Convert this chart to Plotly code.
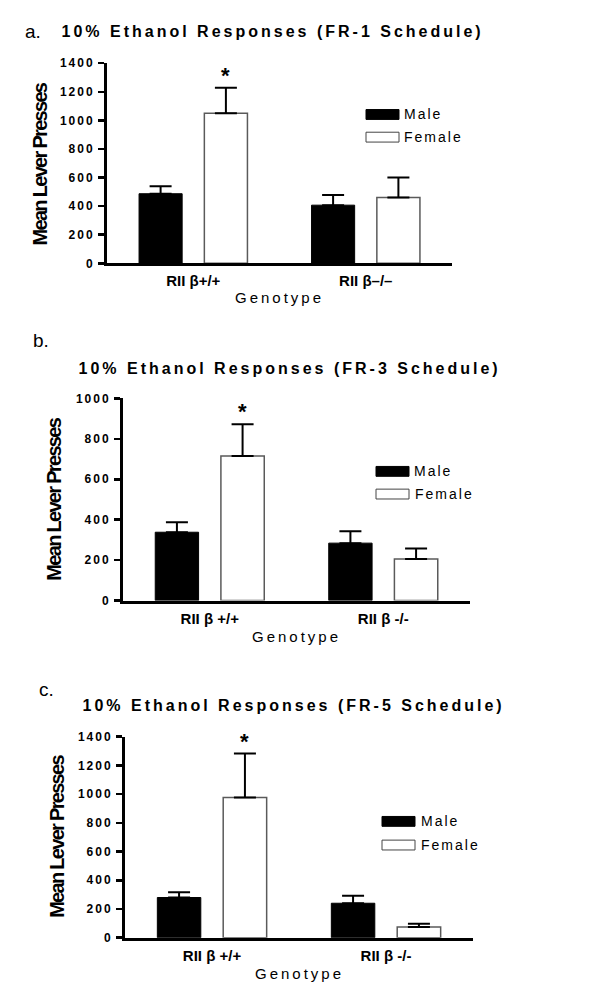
import plotly.graph_objects as go

# ---------------- data ----------------
cats_a = ["RII β+/+", "RII β–/–"]
male_a = [487, 407]
male_sem_a = [53, 71]
female_a = [1050, 460]
female_sem_a = [178, 140]

cats_b = ["RII β +/+", "RII β -/-"]
male_b = [338, 284]
male_sem_b = [49, 59]
female_b = [715, 206]
female_sem_b = [157, 52]

cats_c = ["RII β +/+", "RII β -/-"]
male_c = [280, 240]
male_sem_c = [37, 52]
female_c = [976, 75]
female_sem_c = [306, 23]

titles = ["10% Ethanol Responses (FR-1 Schedule)",
          "10% Ethanol Responses (FR-3 Schedule)",
          "10% Ethanol Responses (FR-5 Schedule)"]
panel_letters = ["a.", "b.", "c."]
y_title = "Mean Lever Presses"
x_title = "Genotype"
series_names = ["Male", "Female"]
y_ranges = [[0, 1400], [0, 1000], [0, 1400]]
y_dticks = [200, 200, 200]

W, H = 590, 996
FONT = "Liberation Sans, Arial, sans-serif"

def fx(px):
    return px / W

def fy(py):
    return 1 - py / H

# layout geometry (pixels) per panel
panels = [
    dict(x0=107, x1=452, yt=57, yb=260,
         letter=(23, 25), title=(272, 25), ytitle=(40, 160), xtitle_y=295,
         leg_box=366, leg_y=(109, 132), leg_txt=(423, 433)),
    dict(x0=123, x1=470, yt=397, yb=602,
         letter=(31, 338), title=(289, 367), ytitle=(54, 500), xtitle_y=638,
         leg_box=376, leg_y=(471, 494), leg_txt=(434, 444)),
    dict(x0=125, x1=473, yt=740, yb=944,
         letter=(37, 692), title=(293, 708), ytitle=(57, 842), xtitle_y=980,
         leg_box=382, leg_y=(826, 850), leg_txt=(440, 450)),
]
data = [
    (cats_a, male_a, male_sem_a, female_a, female_sem_a),
    (cats_b, male_b, male_sem_b, female_b, female_sem_b),
    (cats_c, male_c, male_sem_c, female_c, female_sem_c),
]

BARGAP = 0.243
BARGROUPGAP = 0.34

fig = go.Figure()
annotations = []
shapes = []

for i, (p, d) in enumerate(zip(panels, data)):
    cats, m, msem, f, fsem = d
    xa = "x" if i == 0 else f"x{i+1}"
    ya = "y" if i == 0 else f"y{i+1}"
    fig.add_trace(go.Bar(
        x=cats, y=m, name=series_names[0], xaxis=xa, yaxis=ya,
        marker=dict(color="black", line=dict(color="black", width=1)),
        error_y=dict(type="data", symmetric=False, array=msem,
                     arrayminus=[0] * len(msem), color="black",
                     thickness=2, width=11),
        showlegend=False, offsetgroup="m"))
    fig.add_trace(go.Bar(
        x=cats, y=f, name=series_names[1], xaxis=xa, yaxis=ya,
        marker=dict(color="white", line=dict(color="#5a5a5a", width=1.5)),
        error_y=dict(type="data", symmetric=False, array=fsem,
                     arrayminus=[0] * len(fsem), color="black",
                     thickness=2, width=11),
        showlegend=False, offsetgroup="f"))

    axis_x = dict(domain=[fx(p["x0"]), fx(p["x1"])], range=[-0.5, 1.5],
                  anchor=ya, showline=True, linecolor="black", linewidth=3,
                  ticks="", showgrid=False, zeroline=False, type="category",
                  tickfont=dict(family=FONT, size=15, color="black", weight="bold"),
                  ticklabelstandoff=2, fixedrange=True)
    axis_y = dict(domain=[fy(p["yb"]), fy(p["yt"])], range=y_ranges[i],
                  dtick=y_dticks[i], anchor=xa, showline=True,
                  linecolor="black", linewidth=3, ticks="outside",
                  ticklen=6, tickwidth=2.5, tickcolor="black",
                  showgrid=False, zeroline=False,
                  tickfont=dict(family=FONT, size=12, color="black", weight="bold"),
                  ticklabelstandoff=1, fixedrange=True)
    fig.update_layout(**{("xaxis" if i == 0 else f"xaxis{i+1}"): axis_x,
                         ("yaxis" if i == 0 else f"yaxis{i+1}"): axis_y})

    # asterisk over the significant female bar
    slot = (1 - BARGAP) / 2
    annotations.append(dict(
        x=0 + slot / 2, y=f[0] + fsem[0], xref=xa, yref=ya,
        text="*", showarrow=False, yanchor="bottom", yshift=-2,
        font=dict(family=FONT, size=22, color="black", weight="bold")))

    # panel letter
    annotations.append(dict(
        x=fx(p["letter"][0]), y=fy(p["letter"][1]), xref="paper", yref="paper",
        text=panel_letters[i], showarrow=False, xanchor="left", yanchor="middle",
        font=dict(family=FONT, size=19, color="black")))
    # title (centered; letter-spacing added in the page script)
    annotations.append(dict(
        x=fx(p["title"][0]), y=fy(p["title"][1]), xref="paper", yref="paper",
        text=titles[i], showarrow=False, xanchor="center", yanchor="middle",
        font=dict(family=FONT, size=16, color="black", weight="bold")))
    # y title
    annotations.append(dict(
        x=fx(p["ytitle"][0]), y=fy(p["ytitle"][1]), xref="paper", yref="paper",
        text=y_title, showarrow=False, textangle=-90,
        xanchor="center", yanchor="middle",
        font=dict(family=FONT, size=20, color="black", weight="bold")))
    # x title
    annotations.append(dict(
        x=fx((p["x0"] + p["x1"]) / 2), y=fy(p["xtitle_y"]),
        xref="paper", yref="paper",
        text=x_title, showarrow=False, xanchor="center", yanchor="middle",
        font=dict(family=FONT, size=15, color="black")))

    # legend (swatches + labels)
    lx = p["leg_box"]
    ly_m, ly_f = p["leg_y"]
    shapes.append(dict(type="rect", xref="paper", yref="paper",
                       x0=fx(lx), x1=fx(lx + 33), y0=fy(ly_m + 5), y1=fy(ly_m - 5),
                       fillcolor="black", line=dict(color="black", width=1)))
    shapes.append(dict(type="rect", xref="paper", yref="paper",
                       x0=fx(lx), x1=fx(lx + 33), y0=fy(ly_f + 5), y1=fy(ly_f - 5),
                       fillcolor="white", line=dict(color="#444444", width=1)))
    for name, ly, tx in zip(series_names, [ly_m, ly_f], p["leg_txt"]):
        annotations.append(dict(
            x=fx(tx), y=fy(ly), xref="paper", yref="paper",
            text=name, showarrow=False, xanchor="center", yanchor="middle",
            font=dict(family=FONT, size=14, color="black")))

fig.update_layout(
    width=W, height=H, autosize=False,
    margin=dict(l=0, r=0, t=0, b=0),
    paper_bgcolor="white", plot_bgcolor="white",
    barmode="group", bargap=BARGAP, bargroupgap=BARGROUPGAP,
    annotations=annotations, shapes=shapes,
    font=dict(family=FONT, color="black"),
)

post = """
document.body.style.margin = '0';
document.body.style.overflow = 'hidden';
var gd = document.getElementById('{plot_id}');
function spacing(){
  gd.querySelectorAll('text').forEach(function(t){
    var s = (t.textContent || '').trim();
    var v = null;
    if (s.indexOf('Ethanol') >= 0) v = '3px';
    else if (s === 'Genotype') v = '3px';
    else if (s === 'Male' || s === 'Female') v = '2px';
    else if (s === 'Mean Lever Presses') v = '-1.7px';
    else if (/^[0-9]+$/.test(s)) v = '2px';
    if (v) t.style.letterSpacing = v;
  });
}
spacing();
if (gd.on) gd.on('plotly_afterplot', spacing);
setTimeout(spacing, 50);
"""

fig.write_html("out.html", post_script=post,
               config={"displayModeBar": False, "staticPlot": True})
